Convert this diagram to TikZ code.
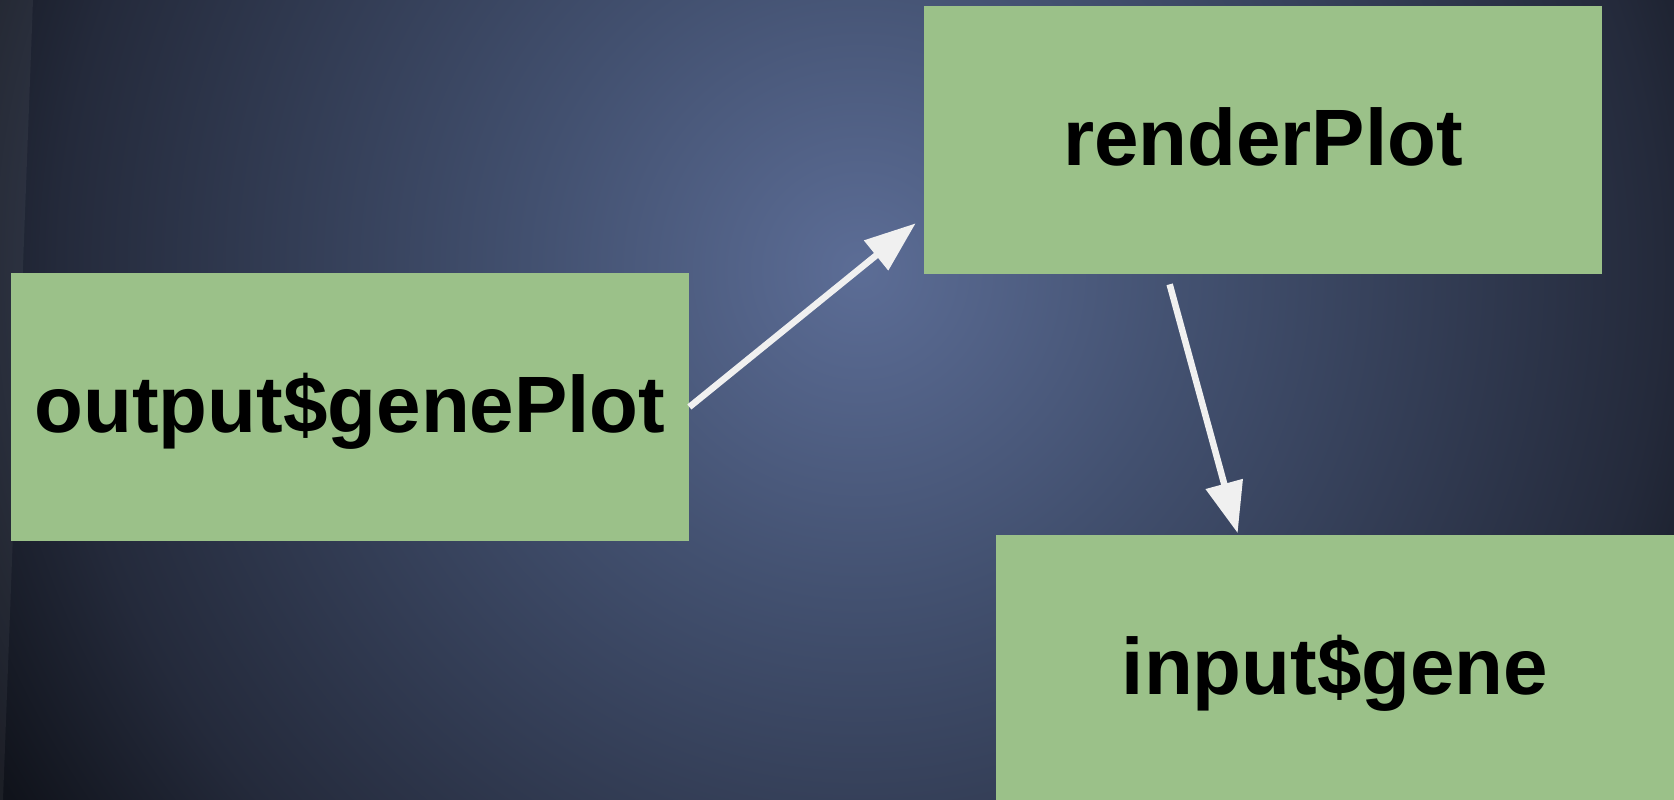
\documentclass[tikz,border=0pt]{standalone}
\usepackage{fontspec}
\setmainfont{Liberation Sans}
\usepackage{tikz}
\usetikzlibrary{positioning, calc, arrows.meta}

\definecolor{boxgreen}{RGB}{155,193,137}
\definecolor{arrowwhite}{RGB}{240,240,240}
\definecolor{glowA}{RGB}{92,109,150}
\definecolor{glowB}{RGB}{66,80,111}
\definecolor{glowC}{RGB}{36,42,59}
\definecolor{glowD}{RGB}{16,19,27}

% Glow behind the diagram, stops in real lengths
\pgfdeclareradialshading{bgglow}{\pgfpoint{0cm}{0cm}}{%
  color(0cm)=(glowA); color(6.7cm)=(glowB); color(16cm)=(glowC);
  color(20cm)=(glowD); color(24cm)=(glowD)}

\tikzset{
    funcbox/.style={fill=boxgreen, minimum width=13.56cm, minimum height=5.36cm,
        inner sep=0pt, text height=1.04cm, text depth=0pt,
        font=\fontsize{45.5}{50}\selectfont\bfseries},
    flow/.style={draw=arrowwhite, line width=3.7pt,
        -{Triangle[length=1.02cm, width=0.74cm]}}
}

\begin{document}
\begin{tikzpicture}
    \useasboundingbox (0,0) rectangle (33.48,16);
    \clip (0,0) rectangle (33.48,16);

    % Background glow
    \node[inner sep=0pt] (glow) at (17.2,10.6) {\pgfuseshading{bgglow}};
    \fill[white, opacity=0.05] (0,16) -- (0.66,16) -- (0.06,0) -- (0,0) -- cycle;

    % Boxes
    \node[funcbox] (genePlot) at (7.0,7.86) {output\$genePlot};
    \node[funcbox] (renderPlot) at (25.26,13.2) {renderPlot};
    \node[funcbox] (geneInput) at (26.7,2.62) {input\$gene};

    % Arrows
    \draw[flow] (genePlot.east) -- ($(renderPlot.south west)+(-0.16,1.02)$);
    \draw[flow] ($(renderPlot.south west)+(4.92,-0.2)$) -- ($(geneInput.north west)+(4.84,0.03)$);
\end{tikzpicture}
\end{document}
